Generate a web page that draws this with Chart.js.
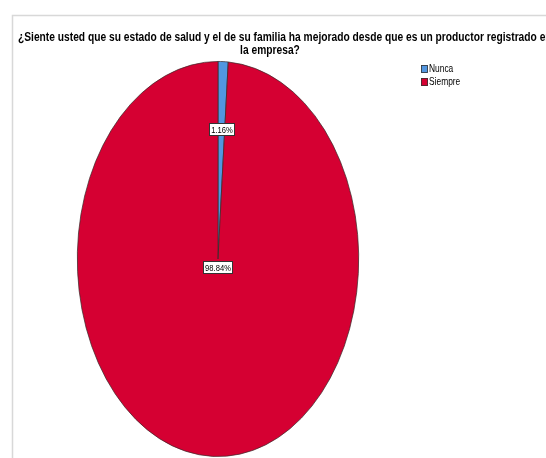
<!DOCTYPE html>
<html>
<head>
<meta charset="utf-8">
<script src="https://cdn.jsdelivr.net/npm/chart.js@4/dist/chart.umd.min.js"></script>
<style>
html,body{margin:0;padding:0;background:#fff;}
#wrap{position:relative;width:546px;height:458px;}
</style>
</head>
<body>
<div id="wrap"><canvas id="c" width="546" height="458"></canvas></div>
<script>
const titleLines = ["¿Siente usted que su estado de salud y el de su familia ha mejorado desde que es un productor registrado en", "la empresa?"];
const categories = ["Nunca", "Siempre"];
const percentages = [1.16, 98.84];
const sliceColors = ["#5296E0", "#D50032"];

const FONT = '"Liberation Sans", Arial, sans-serif';
const NARROW_X = 0.8;
const Y_STRETCH = 1.404;

// draw horizontally condensed text
function narrowText(ctx, txt, x, y, align) {
  ctx.save();
  ctx.translate(x, y);
  ctx.scale(NARROW_X, 1);
  ctx.textAlign = align;
  ctx.fillText(txt, 0, 0);
  ctx.restore();
}

const framePlugin = {
  id: 'frame',
  beforeDraw(chart) {
    const ctx = chart.ctx;
    ctx.save();
    ctx.fillStyle = '#fff';
    ctx.fillRect(0, 0, chart.width, chart.height);
    ctx.strokeStyle = '#d8d8d8';
    ctx.lineWidth = 1.5;
    ctx.beginPath();
    ctx.moveTo(12.5, chart.height);
    ctx.lineTo(12.5, 15.5);
    ctx.lineTo(chart.width, 15.5);
    ctx.stroke();
    ctx.restore();
  }
};

const stretchPlugin = {
  id: 'stretch',
  beforeDatasetsDraw(chart) {
    const arc = chart.getDatasetMeta(0).data[0];
    const ctx = chart.ctx;
    ctx.save();
    ctx.translate(arc.x, arc.y);
    ctx.scale(1, Y_STRETCH);
    ctx.translate(-arc.x, -arc.y);
  },
  afterDatasetsDraw(chart) {
    chart.ctx.restore();
  }
};

const textPlugin = {
  id: 'texts',
  afterDraw(chart) {
    const ctx = chart.ctx;
    ctx.save();
    // title
    ctx.fillStyle = '#000';
    ctx.font = 'bold 12.8px ' + FONT;
    ctx.textBaseline = 'middle';
    narrowText(ctx, titleLines[0], 18, 37, 'left');
    narrowText(ctx, titleLines[1], 270, 50, 'center');

    // legend
    ctx.font = '10.5px ' + FONT;
    categories.forEach((c, i) => {
      const y = 65 + i * 13;
      ctx.fillStyle = sliceColors[i];
      ctx.fillRect(421, y, 7, 8);
      ctx.strokeStyle = '#333';
      ctx.lineWidth = 0.8;
      ctx.strokeRect(421.5, y + 0.5, 6, 7);
      ctx.fillStyle = '#000';
      narrowText(ctx, c, 429, y + 4, 'left');
    });

    // slice labels
    const meta = chart.getDatasetMeta(0);
    ctx.font = '9.5px ' + FONT;
    meta.data.forEach((arc, i) => {
      const mid = (arc.startAngle + arc.endAngle) / 2;
      const frac = percentages[i] > 50 ? 0.04 : 0.66;
      const r = arc.outerRadius * frac;
      const x = arc.x + Math.cos(mid) * r;
      const y = arc.y + Math.sin(mid) * r * Y_STRETCH;
      const txt = percentages[i].toFixed(2) + '%';
      const w = Math.round(ctx.measureText(txt).width * NARROW_X + 3);
      const h = 12;
      const bx = Math.round(x - w / 2) + 0.5, by = Math.round(y - h / 2) + 0.5;
      ctx.fillStyle = '#fff';
      ctx.fillRect(bx, by, w, h);
      ctx.strokeStyle = '#333';
      ctx.lineWidth = 1;
      ctx.strokeRect(bx, by, w, h);
      ctx.fillStyle = '#000';
      narrowText(ctx, txt, bx + w / 2, by + h / 2 + 0.5, 'center');
    });
    ctx.restore();
  }
};

new Chart(document.getElementById('c'), {
  type: 'pie',
  data: {
    labels: categories,
    datasets: [{
      data: percentages,
      backgroundColor: sliceColors,
      borderColor: '#3a2a2a',
      borderWidth: 0.6
    }]
  },
  options: {
    responsive: false,
    animation: false,
    events: [],
    layout: { padding: { left: 77, right: 187, top: 118, bottom: 58 } },
    plugins: {
      legend: { display: false },
      title: { display: false },
      tooltip: { enabled: false }
    }
  },
  plugins: [framePlugin, stretchPlugin, textPlugin]
});
</script>
</body>
</html>
